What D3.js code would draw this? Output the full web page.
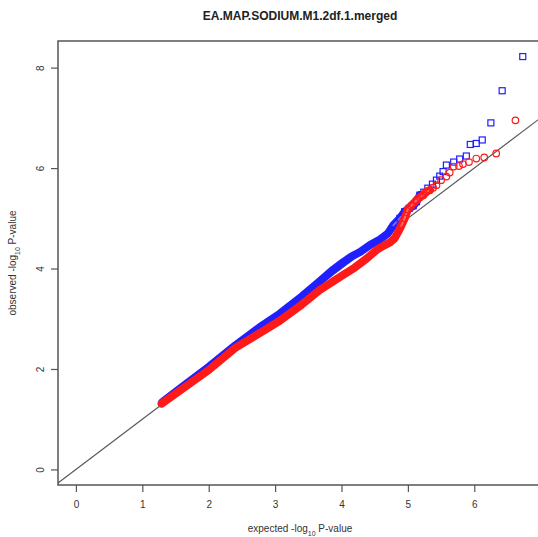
<!DOCTYPE html>
<html>
<head>
<meta charset="utf-8">
<script src="https://cdn.jsdelivr.net/npm/d3@7"></script>
<style>
  body { margin: 0; background: #fff; }
  svg { display: block; font-family: "Liberation Sans", Arial, sans-serif; }
</style>
</head>
<body>
<svg width="538" height="537"></svg>
<script>
// DATA: expected vs observed -log10 P
const title = "EA.MAP.SODIUM.M1.2df.1.merged";
const xTicks = [0, 1, 2, 3, 4, 5, 6];
const yTicks = [0, 2, 4, 6, 8];

// blue series (squares)
const blueExpected = [1.30, 1.60, 2.00, 2.40, 2.80, 3.07, 3.40, 3.65, 3.85, 4.02, 4.15, 4.28, 4.43, 4.58, 4.70, 4.78, 4.88, 4.95, 5.02, 5.08, 5.13, 5.18, 5.24, 5.30, 5.37, 5.43, 5.48, 5.53, 5.58, 5.69, 5.78, 5.88, 5.94, 6.03, 6.12, 6.25, 6.42, 6.73];
const blueObserved = [1.34, 1.64, 2.04, 2.47, 2.86, 3.10, 3.44, 3.72, 3.95, 4.12, 4.24, 4.33, 4.47, 4.58, 4.70, 4.86, 5.00, 5.13, 5.20, 5.25, 5.33, 5.46, 5.52, 5.60, 5.68, 5.76, 5.84, 5.93, 6.06, 6.12, 6.18, 6.24, 6.47, 6.49, 6.56, 6.90, 7.54, 8.22];

// red series (circles)
const redExpected = [1.29, 1.60, 2.00, 2.40, 2.80, 3.07, 3.40, 3.67, 4.02, 4.20, 4.38, 4.53, 4.63, 4.73, 4.80, 4.85, 4.90, 4.95, 5.00, 5.05, 5.13, 5.18, 5.23, 5.28, 5.33, 5.38, 5.43, 5.50, 5.58, 5.63, 5.69, 5.77, 5.83, 5.92, 6.03, 6.15, 6.33, 6.62];
const redObserved = [1.31, 1.60, 1.98, 2.42, 2.74, 2.96, 3.28, 3.57, 3.87, 4.02, 4.20, 4.37, 4.45, 4.52, 4.60, 4.72, 4.85, 5.00, 5.18, 5.25, 5.36, 5.42, 5.46, 5.53, 5.56, 5.61, 5.66, 5.76, 5.83, 5.91, 6.03, 6.04, 6.08, 6.12, 6.19, 6.21, 6.29, 6.95];

// dense part of each series is drawn as a thick band, the rest as markers
const blueDenseLimit = 5.2;
const redDenseLimit = 5.35;

// SETUP
const svg = d3.select("svg");
const plot = { left: 58, right: 542, top: 41, bottom: 485 };

const xScale = d3.scaleLinear().domain([-0.27, 7.02]).range([plot.left, plot.right]);
const yScale = d3.scaleLinear().domain([-0.31, 8.53]).range([plot.bottom, plot.top]);

svg.append("defs").append("clipPath").attr("id", "clip")
  .append("rect")
  .attr("x", plot.left).attr("y", plot.top)
  .attr("width", plot.right - plot.left).attr("height", plot.bottom - plot.top);

const canvas = svg.append("g").attr("clip-path", "url(#clip)");

// diagonal y = x
canvas.append("line")
  .attr("x1", xScale(-0.3)).attr("y1", yScale(-0.3))
  .attr("x2", xScale(9)).attr("y2", yScale(9))
  .attr("stroke", "#555").attr("stroke-width", 1.1);

const zip = (xs, ys) => xs.map((x, i) => [x, ys[i]]);
const blue = zip(blueExpected, blueObserved);
const red = zip(redExpected, redObserved);

const line = d3.line().x((d) => xScale(d[0])).y((d) => yScale(d[1]));

function drawSeries(data, color, shape, limit) {
  const dense = data.filter((d) => d[0] <= limit);
  const band = canvas.append("path")
    .datum(dense)
    .attr("d", line)
    .attr("fill", "none")
    .attr("stroke", color)
    .attr("stroke-width", 8)
    .attr("stroke-linecap", "round")
    .attr("stroke-linejoin", "round");

  // upper part of the band is made of overlapping open markers: thinner band there
  canvas.append("path")
    .datum(data.filter((d) => d[0] >= limit - 0.45 && d[0] <= limit))
    .attr("d", line)
    .attr("fill", "none")
    .attr("stroke", "#fff")
    .attr("stroke-opacity", 0.35)
    .attr("stroke-width", 2)
    .attr("stroke-linecap", "round");

  const pts = canvas.append("g").selectAll("g")
    .data(data.filter((d) => d[0] > limit - 0.4))
    .enter();

  if (shape === "square") {
    pts.append("rect")
      .attr("x", (d) => xScale(d[0]) - 3)
      .attr("y", (d) => yScale(d[1]) - 3)
      .attr("width", 6).attr("height", 6)
      .attr("fill", "none").attr("stroke", color).attr("stroke-width", 1.2);
  } else {
    pts.append("circle")
      .attr("cx", (d) => xScale(d[0]))
      .attr("cy", (d) => yScale(d[1]))
      .attr("r", 3.3)
      .attr("fill", "none").attr("stroke", color).attr("stroke-width", 1.2);
  }
}

drawSeries(blue, "#1f1fff", "square", blueDenseLimit);
drawSeries(red, "#ff1a1a", "circle", redDenseLimit);

// box
svg.append("rect")
  .attr("x", plot.left).attr("y", plot.top)
  .attr("width", plot.right - plot.left).attr("height", plot.bottom - plot.top)
  .attr("fill", "none").attr("stroke", "#555").attr("stroke-width", 1.5);

// axes
const xAxis = svg.append("g")
  .attr("transform", `translate(0,${plot.bottom})`)
  .call(d3.axisBottom(xScale).tickValues(xTicks).tickSize(7).tickPadding(9));
const yAxis = svg.append("g")
  .attr("transform", `translate(${plot.left},0)`)
  .call(d3.axisLeft(yScale).tickValues(yTicks).tickSize(7));

[xAxis, yAxis].forEach((g) => {
  g.select(".domain").remove();
  g.selectAll("line").attr("stroke", "#555").attr("stroke-width", 1.2);
  g.selectAll("text").attr("fill", "#333").style("font-size", "10px")
    .style("font-family", "'Liberation Sans', Arial, sans-serif");
});

yAxis.selectAll("text")
  .attr("transform", "rotate(-90)")
  .attr("x", 0).attr("y", -14).attr("dy", 0)
  .attr("text-anchor", "middle");

// title and axis labels
svg.append("text")
  .attr("x", 300).attr("y", 20)
  .attr("text-anchor", "middle")
  .style("font-size", "12px").style("font-weight", "bold")
  .attr("fill", "#222")
  .text(title);

function axisLabel(g, first) {
  g.append("tspan").text(first + " -log");
  g.append("tspan").attr("baseline-shift", "sub").style("font-size", "7px").text("10");
  g.append("tspan").text(" P-value");
}

const xl = svg.append("text")
  .attr("x", 300).attr("y", 532)
  .attr("text-anchor", "middle")
  .style("font-size", "10px").attr("fill", "#333");
axisLabel(xl, "expected");

const yl = svg.append("text")
  .attr("transform", `translate(16,263) rotate(-90)`)
  .attr("text-anchor", "middle")
  .style("font-size", "10px").attr("fill", "#333");
axisLabel(yl, "observed");
</script>
</body>
</html>
